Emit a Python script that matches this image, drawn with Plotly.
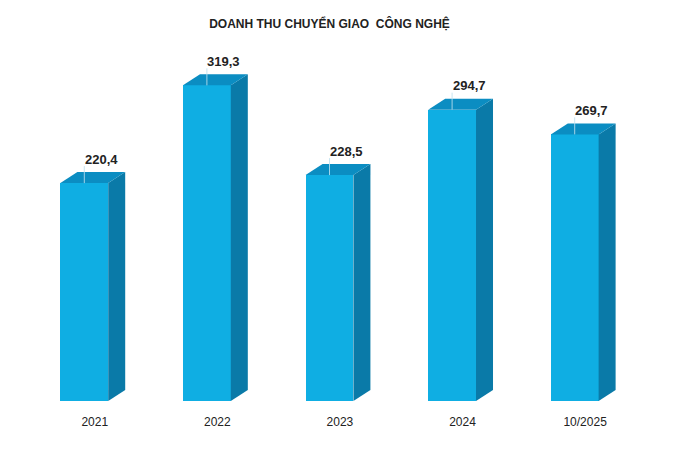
import plotly.graph_objects as go

categories = ["2021", "2022", "2023", "2024", "10/2025"]
values = [220.4, 319.3, 228.5, 294.7, 269.7]
labels = ["220,4", "319,3", "228,5", "294,7", "269,7"]
title_text = "DOANH THU CHUYỂN GIAO  CÔNG NGHỆ"

FRONT = "#0FAEE3"
SIDE = "#0A7AA8"
TOP = "#0B8DC2"
FONT = "Arial, Liberation Sans, sans-serif"

W, H = 700, 457
ML, MR, MT, MB = 23, 64, 55, 56
YMAX = 350
pw = W - ML - MR
ph = H - MT - MB
px_x = 5 / pw          # data units per pixel (x)
px_y = YMAX / ph       # data units per pixel (y)

bw = 0.39
dx = 17 * px_x
dy = 11 * px_y

xs = list(range(len(categories)))

fig = go.Figure()
fig.add_trace(go.Bar(x=xs, y=values, width=bw, marker=dict(color=FRONT, line=dict(width=0)),
                     hoverinfo="skip", showlegend=False))

for i, v in zip(xs, values):
    l, r = i - bw / 2, i + bw / 2
    # side face
    fig.add_trace(go.Scatter(x=[r, r + dx, r + dx, r, r], y=[0, dy, v + dy, v, 0],
                             fill="toself", fillcolor=SIDE, line=dict(width=0), mode="lines",
                             hoverinfo="skip", showlegend=False))
    # top face
    fig.add_trace(go.Scatter(x=[l, l + dx, r + dx, r, l], y=[v, v + dy, v + dy, v, v],
                             fill="toself", fillcolor=TOP, line=dict(width=0), mode="lines",
                             hoverinfo="skip", showlegend=False))
    # leader line
    fig.add_trace(go.Scatter(x=[i, i], y=[v, v + dy + 6 * px_y], mode="lines",
                             line=dict(color="rgba(190,225,240,0.85)", width=1),
                             hoverinfo="skip", showlegend=False))

for i, v, t in zip(xs, values, labels):
    fig.add_annotation(x=i + dx, y=v + dy, text="<b>%s</b>" % t, showarrow=False,
                       yanchor="middle", yshift=13, font=dict(family=FONT, size=13, color="#222222"))

fig.update_layout(
    width=W, height=H,
    margin=dict(l=ML, r=MR, t=MT, b=MB),
    paper_bgcolor="white", plot_bgcolor="white",
    title=dict(text="<b>%s</b>" % title_text, x=0.5, xref="paper", y=1 - 24 / H, yref="container",
               yanchor="middle", font=dict(family=FONT, size=12, color="#222222")),
    xaxis=dict(range=[-0.5, 4.5], tickvals=[i + 0.085 for i in xs], ticktext=categories,
               showgrid=False, zeroline=False, showline=False, ticks="",
               ticklabelstandoff=12,
               tickfont=dict(family=FONT, size=12, color="#222222")),
    yaxis=dict(range=[0, YMAX], visible=False, showgrid=False, zeroline=False),
    bargap=0,
)

fig.write_html("out.html")
